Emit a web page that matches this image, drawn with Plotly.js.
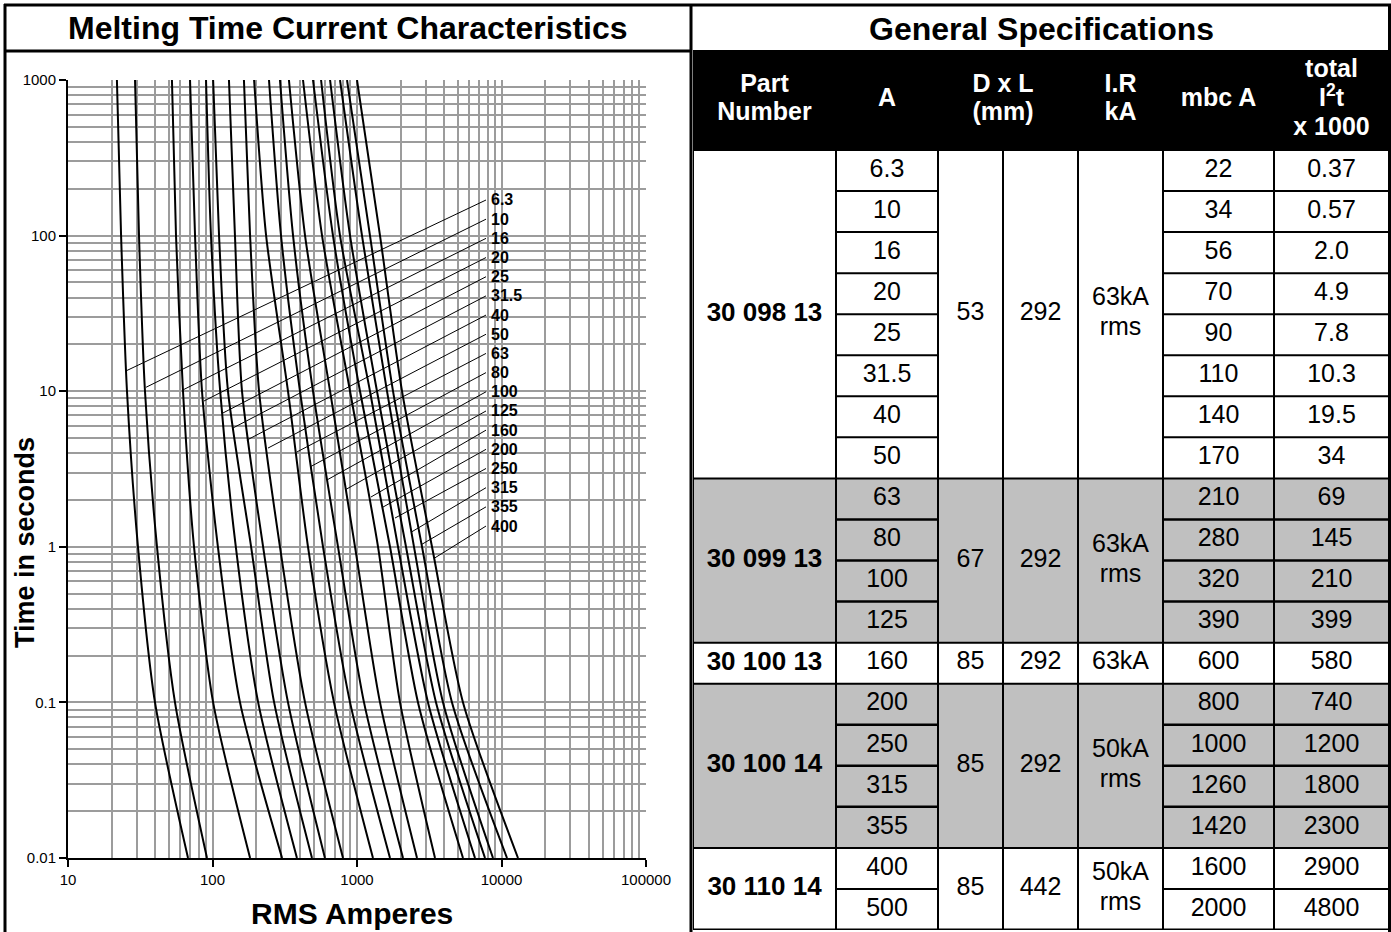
<!DOCTYPE html>
<html>
<head>
<meta charset="utf-8">
<script src="https://cdn.plot.ly/plotly-3.0.1.min.js"></script>
<style>html,body{margin:0;padding:0;background:#fff;}#chart{width:1391px;height:932px;}</style>
</head>
<body>
<div id="chart"></div>
<script>
// ---------------- DATA ----------------
const times = [1000, 100, 10, 1, 0.1, 0.01];
// melting current (A) of each curve at the times above
const meltCurrents = [
  [21.8, 23.3, 25.6, 30.5, 40.0, 67.7],
  [29.1, 31.0, 34.1, 41.3, 55.0, 91.6],
  [52.4, 55.9, 62.5, 74.5, 101, 182],
  [69.9, 75.7, 84.6, 109, 155, 303],
  [90.2, 97.6, 113, 145, 207, 384],
  [101, 111, 128, 185, 267, 488],
  [130, 143, 160, 224, 333, 600],
  [165, 182, 210, 293, 437, 800],
  [194, 235, 333, 458, 693, 1290],
  [246, 298, 403, 582, 895, 1692],
  [293, 361, 496, 739, 1118, 2082],
  [338, 437, 651, 969, 1443, 2602],
  [423, 573, 895, 1398, 1984, 3466],
  [496, 682, 1049, 1692, 2643, 5415],
  [564, 763, 1230, 1922, 3099, 6556],
  [651, 895, 1375, 2183, 3522, 7689],
  [763, 1083, 1613, 2480, 3938, 8735],
  [853, 1230, 1775, 2818, 4543, 10920],
  [1000, 1443, 2049, 3304, 5415, 13010]
];
const curveLabels = ['6.3','10','16','20','25','31.5','40','50','63','80','100','125','160','200','250','315','355','400'];
const leaderCurrent = [25.2, 34.7, 62.5, 87.3, 118, 139, 173, 242, 384, 473, 620, 826, 1250, 1513, 1832, 2365, 2773, 3466];
const leaderTime = [13.5, 10.6, 10.2, 8.65, 7.24, 5.81, 4.85, 4.31, 4.07, 3.26, 2.69, 2.32, 2.09, 1.80, 1.53, 1.24, 1.03, 0.85];

const xTickVals = [10, 100, 1000, 10000, 100000];
const xTickText = ['10', '100', '1000', '10000', '100000'];
const yTickVals = [0.01, 0.1, 1, 10, 100, 1000];
const yTickText = ['0.01', '0.1', '1', '10', '100', '1000'];

// table
const headerLabels = [['Part', 'Number'], ['A'], ['D x L', '(mm)'], ['I.R', 'kA'], ['mbc A'], ['total', 'I<sup>2</sup>t', 'x 1000']];
const ampRatings = ['6.3','10','16','20','25','31.5','40','50','63','80','100','125','160','200','250','315','355','400','500'];
const mbcA = ['22','34','56','70','90','110','140','170','210','280','320','390','600','800','1000','1260','1420','1600','2000'];
const totalI2t = ['0.37','0.57','2.0','4.9','7.8','10.3','19.5','34','69','145','210','399','580','740','1200','1800','2300','2900','4800'];
const partNumbers = ['30 098 13','30 099 13','30 100 13','30 100 14','30 110 14'];
const groupSizes = [8, 4, 1, 4, 2];
const groupD = ['53','67','85','85','85'];
const groupL = ['292','292','292','292','442'];
const groupIR = [['63kA', 'rms'], ['63kA', 'rms'], ['63kA'], ['50kA', 'rms'], ['50kA', 'rms']];
const groupShaded = [false, true, false, true, false];

// ---------------- LAYOUT CONSTANTS ----------------
const W = 1391, H = 932;
const X = px => px / W, Y = py => 1 - py / H;
const FONT = 'Liberation Sans, Arial, Helvetica, sans-serif';
const colEdges = [0, 143, 245, 310, 385, 470, 581, 696];   // table columns (px from table left)
const colCenter = i => (colEdges[i] + colEdges[i + 1]) / 2;
const headerRows = 2.436;
const ROWPX = 41.05;
// label box (log units on chart axes)
const boxLeft = 3.8927, boxRight = 4.2734, boxTop = 2.3766, boxBottom = 0.0373;
const labelLog0 = 2.2288, labelStep = 0.12326;

const traces = [];
// curves
meltCurrents.forEach(c => traces.push({
  x: c, y: times, type: 'scatter', mode: 'lines', xaxis: 'x', yaxis: 'y',
  line: {color: '#000', width: 2, shape: 'spline', smoothing: 0.7}, hoverinfo: 'skip'
}));
// leaders
curveLabels.forEach((lab, i) => traces.push({
  x: [Math.pow(10, boxLeft), leaderCurrent[i]],
  y: [Math.pow(10, labelLog0 - labelStep * i), leaderTime[i]],
  type: 'scatter', mode: 'lines', xaxis: 'x', yaxis: 'y',
  line: {color: '#000', width: 1}, hoverinfo: 'skip'
}));

// ----- table traces -----
const txt = (xs, ys, texts, size, color, bold) => traces.push({
  x: xs, y: ys, text: bold ? texts.map(t => '<b>' + t + '</b>') : texts, type: 'scatter', mode: 'text',
  xaxis: 'x2', yaxis: 'y2', textposition: 'middle center',
  textfont: {family: FONT, size, color}, hoverinfo: 'skip'
});
// multi-line cell: returns positions of each line (row units) around a middle
const lineYs = (mid, n, gapPx) => Array.from({length: n}, (_, k) => mid + (k - (n - 1) / 2) * gapPx / ROWPX);

const rowIdx = ampRatings.map((_, i) => i + 0.5);
[[1, ampRatings], [5, mbcA], [6, totalI2t]].forEach(([ci, vals]) =>
  txt(vals.map(() => colCenter(ci)), rowIdx, vals, 25, '#000', false));
const groupStart = [];
groupSizes.reduce((acc, s) => { groupStart.push(acc); return acc + s; }, 0);
const groupMid = groupSizes.map((s, g) => groupStart[g] + s / 2);
txt(partNumbers.map(() => colCenter(0)), groupMid, partNumbers, 26, '#000', true);
txt(groupD.map(() => colCenter(2)), groupMid, groupD, 25, '#000', false);
txt(groupL.map(() => colCenter(3)), groupMid, groupL, 25, '#000', false);
{
  const xs = [], ys = [], ts = [];
  groupIR.forEach((lines, g) => lineYs(groupMid[g], lines.length, 30).forEach((y, k) => {
    xs.push(colCenter(4)); ys.push(y); ts.push(lines[k]);
  }));
  txt(xs, ys, ts, 25, '#000', false);
}
// header
{
  const headerX = [colCenter(0), colCenter(1), colEdges[3], colCenter(4), colCenter(5), colCenter(6)];
  const xs = [], ys = [], ts = [];
  headerLabels.forEach((lines, c) => lineYs(-headerRows / 2, lines.length, lines.length > 2 ? 29 : 28).forEach((y, k) => {
    xs.push(headerX[c]); ys.push(y); ts.push(lines[k]);
  }));
  txt(xs, ys, ts, 25, '#fff', true);
}

// ---------------- SHAPES ----------------
const shapes = [];
const pline = (x0, y0, x1, y1, w) => shapes.push({type: 'line', xref: 'paper', yref: 'paper',
  x0: X(x0), y0: Y(y0), x1: X(x1), y1: Y(y1), line: {color: '#000', width: w}});
pline(5, 4, 5, 932, 3);
pline(4, 5, 1391, 5, 3);
pline(5, 51, 691, 51, 3);
pline(691, 4, 691, 932, 3);
pline(1389.5, 4, 1389.5, 932, 3);

// label box
shapes.push({type: 'rect', xref: 'x', yref: 'y', x0: boxLeft, x1: boxRight, y0: boxBottom, y1: boxTop,
  fillcolor: '#fff', line: {color: '#000', width: 1}, layer: 'above'});

// table shapes
const tl = (x0, y0, x1, y1, w) => shapes.push({type: 'line', xref: 'x2', yref: 'y2', x0, y0, x1, y1,
  line: {color: '#000', width: w}, layer: 'below'});
shapes.push({type: 'rect', xref: 'x2', yref: 'y2', x0: 0, x1: 698, y0: -headerRows, y1: 0,
  fillcolor: '#000', line: {width: 0}, layer: 'below'});
groupSizes.forEach((s, g) => {
  const st = groupStart[g];
  if (groupShaded[g]) shapes.push({type: 'rect', xref: 'x2', yref: 'y2', x0: 0, x1: 696, y0: st, y1: st + s,
    fillcolor: '#c0c0c0', line: {width: 0}, layer: 'below'});
});
groupSizes.forEach((s, g) => {
  const st = groupStart[g];
  tl(0, st, 696, st, 2);
  for (let r = st + 1; r < st + s; r++) {
    tl(colEdges[1], r, colEdges[2], r, groupShaded[g] ? 2.5 : 2);
    tl(colEdges[5], r, colEdges[7], r, groupShaded[g] ? 2.5 : 2);
  }
});
tl(0, ampRatings.length, 696, ampRatings.length, 3);
colEdges.forEach(e => tl(e, 0, e, ampRatings.length, 2));

// ---------------- ANNOTATIONS ----------------
const annotations = [];
curveLabels.forEach((lab, i) => annotations.push({
  xref: 'x', yref: 'y', x: boxLeft, y: labelLog0 - labelStep * i, text: '<b>' + lab + '</b>',
  showarrow: false, xanchor: 'left', yanchor: 'middle', xshift: 3,
  font: {family: FONT, size: 16, color: '#000'}
}));
annotations.push({xref: 'paper', yref: 'paper', x: X(348), y: Y(28), text: '<b>Melting Time Current Characteristics</b>',
  showarrow: false, xanchor: 'center', yanchor: 'middle', font: {family: FONT, size: 32, color: '#000'}});
annotations.push({xref: 'paper', yref: 'paper', x: X(1041), y: Y(29), text: '<b>General Specifications</b>',
  showarrow: false, xanchor: 'center', yanchor: 'middle', font: {family: FONT, size: 32, color: '#000'}});
annotations.push({xref: 'paper', yref: 'paper', x: X(352), y: Y(913), text: '<b>RMS Amperes</b>',
  showarrow: false, xanchor: 'center', yanchor: 'middle', font: {family: FONT, size: 30, color: '#000'}});
annotations.push({xref: 'paper', yref: 'paper', x: X(25), y: Y(543), text: '<b>Time in seconds</b>', textangle: -90,
  showarrow: false, xanchor: 'center', yanchor: 'middle', font: {family: FONT, size: 27, color: '#000'}});

// minor grid values
const minorVals = (lo, hi) => { const v = []; for (let e = lo; e < hi; e++) for (let k = 2; k <= 9; k++) v.push(k * Math.pow(10, e)); return v; };
const GRID = '#9c9c9c';

const layout = {
  width: W, height: H, margin: {l: 0, r: 0, t: 0, b: 0},
  paper_bgcolor: '#fff', plot_bgcolor: '#fff', showlegend: false,
  font: {family: FONT, color: '#000'},
  xaxis: {type: 'log', range: [1, 5], domain: [X(68), X(646)], anchor: 'y',
    tickmode: 'array', tickvals: xTickVals, ticktext: xTickText,
    showgrid: true, gridcolor: GRID, gridwidth: 2, zeroline: false,
    ticks: 'outside', ticklen: 7, tickwidth: 2, tickcolor: '#000',
    showline: true, linecolor: '#000', linewidth: 2,
    tickfont: {family: FONT, size: 15, color: '#000'},
    minor: {tickmode: 'array', tickvals: minorVals(1, 5), showgrid: true, gridcolor: GRID, gridwidth: 2, ticks: ''},
    fixedrange: true},
  yaxis: {type: 'log', range: [-2, 3], domain: [Y(858), Y(80)], anchor: 'x',
    tickmode: 'array', tickvals: yTickVals, ticktext: yTickText,
    showgrid: true, gridcolor: GRID, gridwidth: 2, zeroline: false,
    ticks: 'outside', ticklen: 7, tickwidth: 2, tickcolor: '#000',
    showline: true, linecolor: '#000', linewidth: 2,
    tickfont: {family: FONT, size: 15, color: '#000'},
    minor: {tickmode: 'array', tickvals: minorVals(-2, 3), showgrid: true, gridcolor: GRID, gridwidth: 2, ticks: ''},
    fixedrange: true},
  xaxis2: {domain: [X(693), X(1391)], range: [0, 698], anchor: 'y2', visible: false, fixedrange: true},
  yaxis2: {domain: [Y(930), Y(50)], range: [ampRatings.length, -headerRows], anchor: 'x2', visible: false, fixedrange: true},
  shapes, annotations
};

Plotly.newPlot('chart', traces, layout, {displayModeBar: false, staticPlot: true});
</script>
</body>
</html>
